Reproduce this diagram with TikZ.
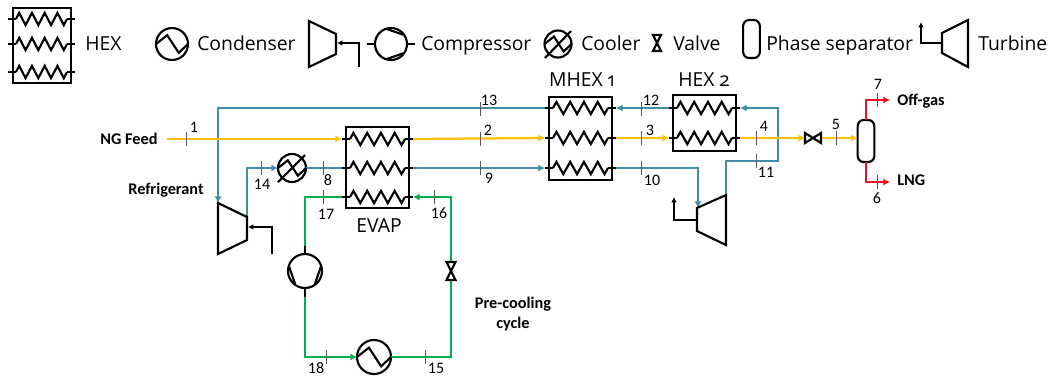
\documentclass[tikz,border=0pt]{standalone}
\usepackage{fontspec}
\setmainfont{Carlito}
\newfontfamily\legendfont{Open Sans}[Numbers=OldStyle]
\usetikzlibrary{arrows.meta,decorations.pathmorphing}

\definecolor{ngyellow}{HTML}{FFC000}
\definecolor{mrteal}{HTML}{3F8FA8}
\definecolor{pcgreen}{HTML}{00B050}
\definecolor{prodred}{HTML}{F01020}

\tikzset{
  eqline/.style={line width=1.6pt,black},
  hexbox/.style 2 args={draw,line width=1.6pt,inner sep=0pt,outer sep=0pt,minimum width=#1*0.75pt,minimum height=#2*0.75pt},
  eqcircle/.style={draw,circle,line width=1.6pt,inner sep=0pt,outer sep=0pt,minimum size=#1*1.5pt},
  sepbox/.style={draw,line width=1.6pt,rounded corners=4.5pt,inner sep=0pt,outer sep=0pt,minimum width=12.5pt,minimum height=31.5pt},
  stream/.style={line width=1.7pt,#1},
  flow/.style={stream=#1,-{Latex[length=5pt,width=5.4pt]}},
  legendtext/.style={anchor=west,inner sep=0pt,text height=10.4pt,text depth=0pt,font=\legendfont\fontsize{14.5}{15}\selectfont},
  unittext/.style={inner sep=0pt,font=\legendfont\fontsize{14.5}{15}\selectfont},
  boldtext/.style={inner sep=0pt,align=center,font=\fontsize{12.2}{15}\selectfont\bfseries},
  boldone/.style={boldtext,text height=8pt,text depth=0pt},
  numtext/.style={inner sep=0pt,font=\fontsize{12}{12}\selectfont},
  tickmark/.style={line width=0.5pt,black!65}
}

% name, y, left end, right end
\newcommand{\coilrow}[4]{
  \coordinate (#1l) at (#3,#2);
  \coordinate (#1r) at (#4,#2);
  \draw[eqline] (#1l) -- ++(8,0);
  \draw[eqline] (#1r) -- ++(-8,0);
  \draw[eqline,line join=miter,decorate,decoration={zigzag,segment length={(#4-#3-16)*0.75pt/4},amplitude=4.6pt}] (#3+8,#2) -- (#4-8,#2);
}
\newcommand{\wavein}[2]{
  \draw[eqline,shift={(#1)},scale=#2] (-1,0) -- (-.3,-.55) -- (.42,.55) -- (1,0);
}
\newcommand{\compmark}[3]{
  \begin{scope}[shift={(#1)},rotate=#3]
    \draw[eqline] (-#2*.27,-#2*.94) -- (#2*.77,-#2*.58);
    \draw[eqline] (-#2*.27,#2*.94) -- (#2*.77,#2*.58);
    \draw[eqline] (-#2,0) -- (-#2*1.5,0);
    \draw[eqline] (#2,0) -- (#2*1.5,0);
  \end{scope}
}
\newcommand{\valvemark}[4]{
  \draw[eqline,shift={(#1)},rotate=#4] (-#3,-#2) -- (#3,-#2) -- (-#3,#2) -- (#3,#2) -- cycle;
}

\begin{document}
\begin{tikzpicture}[x=0.75pt,y=-0.75pt]
  \useasboundingbox (0,0) rectangle (1054,376);

  % legend
  \node[hexbox={58}{75}] (keyhex) at (42,45.5) {};
  \coilrow{keyhexa}{19}{8}{75}
  \coilrow{keyhexb}{44}{8}{75}
  \coilrow{keyhexc}{72}{8}{75}
  \node[legendtext] (keyhextxt) at (85,44) {HEX};

  \node[eqcircle=16] (keycond) at (172,44) {};
  \wavein{keycond}{16}
  \node[legendtext] (keycondtxt) at (197,44) {Condenser};

  \draw[eqline] (309,21) -- (336,34) -- (336,54) -- (309,67) -- cycle;
  \coordinate (keycompa) at (359,67);
  \coordinate (keycompb) at (337,43);
  \draw[eqline,-{Latex[length=4pt,width=4.2pt]}] (keycompa) |- (keycompb);
  \node[eqcircle=16] (keycomp) at (391,44) {};
  \compmark{keycomp}{16}{0}
  \node[legendtext] (keycomptxt) at (421,44) {Compressor};

  \node[eqcircle=13.5] (keycool) at (558,44) {};
  \wavein{keycool}{13.5}
  \draw[eqline] (545,58) -- (571,31);
  \node[legendtext] (keycooltxt) at (581,44) {Cooler};

  \coordinate (keyvalve) at (657,43);
  \valvemark{keyvalve}{8}{4}{0}
  \node[legendtext] (keyvalvetxt) at (673,44) {Valve};

  \node[sepbox,minimum height=28.5pt] (keysep) at (751.5,39) {};
  \node[legendtext] (keyseptxt) at (766,44) {Phase separator};

  \draw[eqline] (942,33) -- (968,20) -- (968,67) -- (942,53) -- cycle;
  \coordinate (keytura) at (942,43);
  \coordinate (keyturb) at (921,22);
  \draw[eqline,-{Latex[length=4pt,width=4.2pt]}] (keytura) -| (keyturb);
  \node[legendtext] (keyturtxt) at (978,44) {Turbine};

  % units
  \node[hexbox={63}{83}] (mhex) at (580.5,138.5) {};
  \node[hexbox={63}{56}] (hextwo) at (704.5,123) {};
  \node[hexbox={63}{81}] (evap) at (377.5,167.5) {};
  \node[unittext] (mhextxt) at (582,80) {MHEX 1};
  \node[unittext] (hextwotxt) at (704,80) {HEX 2};
  \node[unittext] (evaptxt) at (379,226) {EVAP};

  \node[eqcircle=14] (cooler) at (292,168) {};
  \node[eqcircle=17] (pcomp) at (305,271) {};
  \node[eqcircle=17] (pcond) at (374,357) {};
  \node[sepbox] (sep) at (866,141) {};

  \coordinate (rcompin) at (218,203);
  \coordinate (rcompout) at (247,217);
  \coordinate (turbin) at (698,208);
  \coordinate (turbout) at (726,195);
  \coordinate (loopa) at (778,161);
  \coordinate (ngin) at (167,139);
  \coordinate (jtin) at (805,138);
  \coordinate (jtout) at (821,138);
  \coordinate (jtmid) at (813,138);
  \coordinate (pvalve) at (451,271);
  \coordinate (pvalvetop) at (451,262);
  \coordinate (pvalvebot) at (451,280);
  \coordinate (offgasend) at (890,100);
  \coordinate (lngend) at (890,182);

  \coilrow{mhexa}{108}{545}{616}
  \coilrow{mhexb}{138}{545}{616}
  \coilrow{mhexc}{168}{545}{616}
  \coilrow{hextwoa}{108}{669}{740}
  \coilrow{hextwob}{138}{669}{740}
  \coilrow{evapa}{139}{342}{413}
  \coilrow{evapb}{168}{342}{413}
  \coilrow{evapc}{197}{342}{413}

  % refrigerant
  \draw[flow=mrteal] (turbout) |- (loopa) |- (hextwoar);
  \draw[flow=mrteal] (hextwoal) -- (mhexar);
  \draw[flow=mrteal] (mhexal) -| (rcompin);
  \draw[flow=mrteal] (rcompout) |- (cooler.west);
  \draw[stream=mrteal] (cooler.east) -- (evapbl);
  \draw[flow=mrteal] (evapbr) -- (mhexcl);
  \draw[flow=mrteal] (mhexcr) -| (turbin);

  % natural gas
  \draw[flow=ngyellow] (ngin) -- (evapal);
  \draw[flow=ngyellow] (evapar) -- (mhexbl);
  \draw[flow=ngyellow] (mhexbr) -- (hextwobl);
  \draw[flow=ngyellow] (hextwobr) -- (jtin);
  \draw[flow=ngyellow] (jtout) -- (sep.west |- jtout);
  \draw[flow=prodred] (sep.north) |- (offgasend);
  \draw[flow=prodred] (sep.south) |- (lngend);

  % pre-cooling
  \draw[stream=pcgreen] (evapcl) -| (pcomp.north);
  \draw[flow=pcgreen] (pcomp.south) |- (pcond.west);
  \draw[stream=pcgreen] (pcond.east) -| (pvalvebot);
  \draw[flow=pcgreen] (pvalvetop) |- (evapcr);

  % machines
  \draw[eqline] (218,203) -- (247,217) -- (247,240) -- (218,254) -- cycle;
  \coordinate (rshafta) at (272,254);
  \coordinate (rshaftb) at (248,227);
  \draw[eqline,-{Latex[length=4pt,width=4.2pt]}] (rshafta) |- (rshaftb);
  \draw[eqline] (697,208) -- (726,195) -- (726,245) -- (697,231) -- cycle;
  \coordinate (tshafta) at (697,220);
  \coordinate (tshaftb) at (674,197);
  \draw[eqline,-{Latex[length=4pt,width=4.2pt]}] (tshafta) -| (tshaftb);
  \wavein{cooler}{14}
  \draw[eqline] (278,182) -- (305,155);
  \wavein{pcond}{17}
  \compmark{pcomp}{17}{-90}
  \valvemark{jtmid}{8}{5}{90}
  \valvemark{pvalve}{9}{4.5}{0}

  % stream numbers
  \foreach \tx/\ty/\lx/\ly/\num in {186/139/194/127/1, 480/139/488/130/2, 641/138/650/130/3,
    756/138/764/126/4, 836/138/836/124/5, 877/182/877/198/6, 877/100/878/84/7, 323/168/328/180/8,
    480/168/489/178/9, 641/168/652/180/10, 756/161/766/172/11, 641/109/651/100/12,
    480/109/489/100/13, 261/168/262/184/14, 425/357/436/368/15, 434/197/439/213/16,
    323/197/326/214/17, 326/357/316/368/18} {
    \draw[tickmark] (\tx,{\ty-7}) -- (\tx,{\ty+7});
    \node[numtext] (num\num) at (\lx,\ly) {\num};
  }

  \node[boldone] (ngtxt) at (129,139) {NG Feed};
  \node[boldone] (reftxt) at (166,189) {Refrigerant};
  \node[boldtext] (pctxt) at (513,314) {Pre-cooling\\cycle};
  \node[boldone,anchor=west] (offtxt) at (897,100) {Off-gas};
  \node[boldone,anchor=west] (lngtxt) at (897,180) {LNG};
\end{tikzpicture}
\end{document}
